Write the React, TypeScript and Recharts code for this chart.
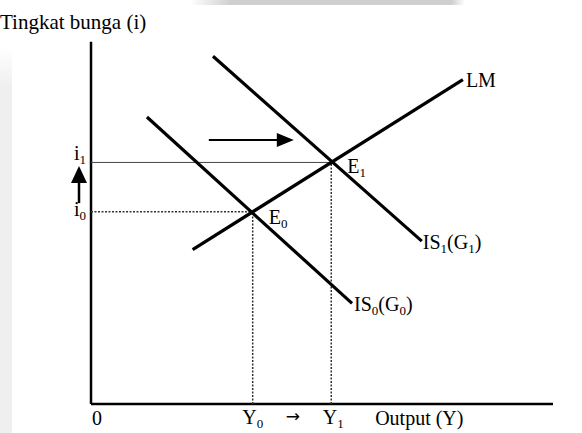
import { LineChart, Line, XAxis, YAxis, ReferenceLine, ReferenceDot } from 'recharts';

// Kurva IS-LM (x = output Y, y = tingkat bunga i), titik ujung tiap garis
const lmCurve = [{ x: 22, y: 42.2 }, { x: 80.5, y: 88.6 }];
const is0Curve = [{ x: 12.1, y: 78.4 }, { x: 56.5, y: 27.5 }];
const is1Curve = [{ x: 26.4, y: 95 }, { x: 71.6, y: 44.5 }];

// keseimbangan
const outputLevels = [35, 52]; // Y0, Y1
const rateLevels = [52.5, 66]; // i0, i1

// panah pergeseran
const shiftArrow = [{ x: 25.5, y: 72.1 }, { x: 43.9, y: 72.1 }];
const rateArrow = [{ x: -2.6, y: 54.9 }, { x: -2.6, y: 65 }];

const AXIS_X_MAX = 100;
const AXIS_Y_MAX = 99;
const OUTPUT_LABEL_X = 61.5;

const X_DOMAIN = [-19.7, 106.28];
const Y_DOMAIN = [-7.92, 110.38];

const FONT = '"Liberation Serif", "Times New Roman", serif';

type Part = { t: string; sub?: boolean };

function textShape(parts: Part[], dx: number, dy: number, anchor: 'start' | 'middle' | 'end' = 'start', size = 20, family = FONT) {
  return (p: any) => {
    let down = false;
    return (
      <text x={p.cx + dx} y={p.cy + dy} textAnchor={anchor} fontFamily={family} fontSize={size} fill="#000">
        {parts.map((part, i) => {
          let shift = 0;
          if (part.sub && !down) { shift = 4; down = true; }
          else if (!part.sub && down) { shift = -4; down = false; }
          return (
            <tspan key={i} dy={shift} fontSize={part.sub ? size * 0.65 : size}>{part.t}</tspan>
          );
        })}
      </text>
    );
  };
}

function arrowHead(dir: 'right' | 'up') {
  return (p: any) => {
    const { cx, cy } = p;
    const pts = dir === 'right'
      ? `${cx},${cy} ${cx - 17},${cy - 7} ${cx - 17},${cy + 7}`
      : `${cx},${cy} ${cx - 8},${cy + 17} ${cx + 8},${cy + 17}`;
    return <polygon points={pts} fill="#000" />;
  };
}

const curveProps = {
  dataKey: 'y',
  stroke: '#000',
  strokeWidth: 3.2,
  dot: false,
  activeDot: false,
  isAnimationActive: false,
};

export default function App() {
  const [y0, y1] = outputLevels;
  const [i0, i1] = rateLevels;
  return (
    <div style={{ position: 'absolute', left: 0, top: 0, width: 582, height: 433, background: '#fff', overflow: 'hidden' }}>
      <div style={{ position: 'absolute', left: 190, top: 0, width: 275, height: 5, background: 'linear-gradient(90deg, #fff 0%, #cfcfcf 15%, #cfcfcf 95%, #fff 100%)' }} />
      <div style={{ position: 'absolute', left: 0, top: 48, width: 12, height: 385, background: 'linear-gradient(180deg, #fff 0%, #efefef 10%, #efefef 100%)' }} />
      <div style={{ position: 'absolute', left: 0, top: 0 }}>
        <LineChart width={582} height={433} margin={{ top: 0, right: 0, bottom: 0, left: 0 }}>
          <XAxis type="number" dataKey="x" domain={X_DOMAIN} allowDataOverflow hide />
          <YAxis type="number" dataKey="y" domain={Y_DOMAIN} allowDataOverflow hide />

          {/* sumbu */}
          <ReferenceLine segment={[{ x: 0, y: 0 }, { x: 0, y: AXIS_Y_MAX }]} stroke="#000" strokeWidth={2.5} />
          <ReferenceLine segment={[{ x: 0, y: 0 }, { x: AXIS_X_MAX, y: 0 }]} stroke="#000" strokeWidth={2.5} />

          {/* garis bantu */}
          <ReferenceLine segment={[{ x: 0, y: i1 }, { x: y1, y: i1 }]} stroke="#444" strokeWidth={1} />
          <ReferenceLine segment={[{ x: 0, y: i0 }, { x: y0, y: i0 }]} stroke="#333" strokeWidth={1.5} strokeDasharray="2 1.5" />
          <ReferenceLine segment={[{ x: y0, y: 0 }, { x: y0, y: i0 }]} stroke="#333" strokeWidth={1.5} strokeDasharray="2 1.5" />
          <ReferenceLine segment={[{ x: y1, y: 0 }, { x: y1, y: i1 }]} stroke="#333" strokeWidth={1.5} strokeDasharray="2 1.5" />

          <Line data={lmCurve} {...curveProps} />
          <Line data={is0Curve} {...curveProps} />
          <Line data={is1Curve} {...curveProps} />

          {/* panah */}
          <ReferenceLine segment={[shiftArrow[0], { x: shiftArrow[1].x - 3, y: shiftArrow[1].y }]} stroke="#000" strokeWidth={2} />
          <ReferenceDot x={shiftArrow[1].x} y={shiftArrow[1].y} r={0} shape={arrowHead('right')} />
          <ReferenceLine segment={[rateArrow[0], { x: rateArrow[1].x, y: rateArrow[1].y - 3 }]} stroke="#000" strokeWidth={2.5} />
          <ReferenceDot x={rateArrow[1].x} y={rateArrow[1].y} r={0} shape={arrowHead('up')} />

          {/* label */}
          <ReferenceDot x={lmCurve[1].x} y={lmCurve[1].y} r={0} shape={textShape([{ t: 'LM' }], 3, 7)} />
          <ReferenceDot x={is1Curve[1].x} y={is1Curve[1].y} r={0} shape={textShape([{ t: 'IS' }, { t: '1', sub: true }, { t: '(G' }, { t: '1', sub: true }, { t: ')' }], 1, 8)} />
          <ReferenceDot x={is0Curve[1].x} y={is0Curve[1].y} r={0} shape={textShape([{ t: 'IS' }, { t: '0', sub: true }, { t: '(G' }, { t: '0', sub: true }, { t: ')' }], 2, 8)} />
          <ReferenceDot x={y1} y={i1} r={0} shape={textShape([{ t: 'E' }, { t: '1', sub: true }], 16, 11)} />
          <ReferenceDot x={y0} y={i0} r={0} shape={textShape([{ t: 'E' }, { t: '0', sub: true }], 16, 12)} />
          <ReferenceDot x={0} y={i1} r={0} shape={textShape([{ t: 'i' }, { t: '1', sub: true }], -11, -2, 'middle')} />
          <ReferenceDot x={0} y={i0} r={0} shape={textShape([{ t: 'i' }, { t: '0', sub: true }], -11, 4, 'middle')} />
          <ReferenceDot x={0} y={0} r={0} shape={textShape([{ t: '0' }], 6, 21, 'middle')} />
          <ReferenceDot x={y0} y={0} r={0} shape={textShape([{ t: 'Y' }, { t: '0', sub: true }], 0, 20, 'middle')} />
          <ReferenceDot x={y1} y={0} r={0} shape={textShape([{ t: 'Y' }, { t: '1', sub: true }], 2, 20, 'middle')} />
          <ReferenceDot x={(y0 + y1) / 2} y={0} r={0} shape={textShape([{ t: '→' }], 1, 18, 'middle', 17, '"DejaVu Sans", sans-serif')} />
          <ReferenceDot x={OUTPUT_LABEL_X} y={0} r={0} shape={textShape([{ t: 'Output (Y)' }], 0, 21)} />
          <ReferenceDot x={0} y={AXIS_Y_MAX} r={0} shape={textShape([{ t: 'Tingkat bunga (i)' }], -91, -13, 'start', 21)} />
        </LineChart>
      </div>
    </div>
  );
}
